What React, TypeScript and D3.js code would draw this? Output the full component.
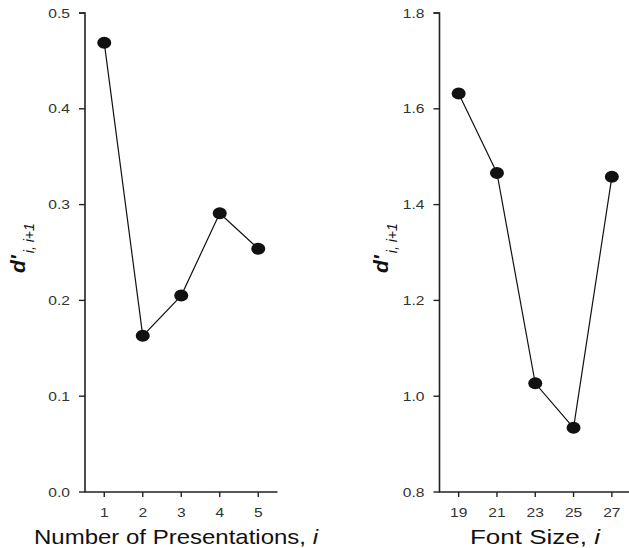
import React, { useEffect, useRef } from "react";
import * as d3 from "d3";

const leftCategories = [1, 2, 3, 4, 5];
const leftValues = [0.469, 0.163, 0.205, 0.291, 0.254];
const leftYTicks = [0.0, 0.1, 0.2, 0.3, 0.4, 0.5];
const leftXLabel = "Number of Presentations, ";

const rightCategories = [19, 21, 23, 25, 27];
const rightValues = [1.632, 1.466, 1.027, 0.934, 1.458];
const rightYTicks = [0.8, 1.0, 1.2, 1.4, 1.6, 1.8];
const rightXLabel = "Font Size, ";

const W = 629;
const H = 548;
const FONT = "Arial, 'Liberation Sans', Helvetica, sans-serif";
const SX = 1.2;

type Panel = {
  cats: number[];
  vals: number[];
  yTicks: number[];
  xDomain: [number, number];
  yDomain: [number, number];
  xRange: [number, number];
  xLabel: string;
  xLabelX: number;
  xLabelLen: number;
  yLabelX: number;
};

export default function App() {
  const ref = useRef<SVGSVGElement | null>(null);

  useEffect(() => {
    const svg = d3.select(ref.current);
    svg.selectAll("*").remove();

    const panels: Panel[] = [
      {
        cats: leftCategories,
        vals: leftValues,
        yTicks: leftYTicks,
        xDomain: [0.5, 5.5],
        yDomain: [0, 0.5],
        xRange: [85, 277.5],
        xLabel: leftXLabel,
        xLabelX: 176,
        xLabelLen: 284,
        yLabelX: 25,
      },
      {
        cats: rightCategories,
        vals: rightValues,
        yTicks: rightYTicks,
        xDomain: [18, 28],
        yDomain: [0.8, 1.8],
        xRange: [439.5, 631],
        xLabel: rightXLabel,
        xLabelX: 535,
        xLabelLen: 130,
        yLabelX: 388,
      },
    ];

    panels.forEach((p) => {
      const x = d3.scaleLinear().domain(p.xDomain).range(p.xRange);
      const y = d3.scaleLinear().domain(p.yDomain).range([492, 13]);
      const g = svg.append("g");
      const x0 = p.xRange[0];

      // y axis
      g.append("path")
        .attr("d", `M${x0 - 6},${y(p.yDomain[1])}H${x0}V${y(p.yDomain[0])}H${p.xRange[1]}`)
        .attr("fill", "none")
        .attr("stroke", "#222")
        .attr("stroke-width", 1.6);
      p.yTicks.forEach((t) => {
        g.append("line")
          .attr("x1", x0 - 6)
          .attr("x2", x0)
          .attr("y1", y(t))
          .attr("y2", y(t))
          .attr("stroke", "#222")
          .attr("stroke-width", 1.4);
        g.append("text")
          .attr("transform", `translate(${x0 - 15},${y(t) + 4.5}) scale(${SX},1)`)
          .attr("text-anchor", "end")
          .attr("fill", "#333")
          .style("font-family", FONT)
          .style("font-size", "13px")
          .text(d3.format(".1f")(t));
      });

      // x axis ticks
      p.cats.forEach((c) => {
        g.append("line")
          .attr("x1", x(c))
          .attr("x2", x(c))
          .attr("y1", 492)
          .attr("y2", 497)
          .attr("stroke", "#222")
          .attr("stroke-width", 1.4);
        g.append("text")
          .attr("transform", `translate(${x(c)},517) scale(${SX},1)`)
          .attr("text-anchor", "middle")
          .attr("fill", "#333")
          .style("font-family", FONT)
          .style("font-size", "13px")
          .text(d3.format("d")(c));
      });

      const pts = p.cats.map((c, i) => ({ c, v: p.vals[i] }));
      const line = d3
        .line<{ c: number; v: number }>()
        .x((d) => x(d.c))
        .y((d) => y(d.v));
      g.append("path")
        .attr("d", line(pts) || "")
        .attr("fill", "none")
        .attr("stroke", "#111")
        .attr("stroke-width", 1.2);
      g.selectAll("ellipse.pt")
        .data(pts)
        .enter()
        .append("ellipse")
        .attr("cx", (d) => x(d.c))
        .attr("cy", (d) => y(d.v))
        .attr("rx", 7)
        .attr("ry", 6)
        .attr("fill", "#111");

      const xl = g
        .append("text")
        .attr("x", p.xLabelX - p.xLabelLen / 2)
        .attr("y", 544)
        .attr("textLength", p.xLabelLen)
        .attr("lengthAdjust", "spacingAndGlyphs")
        .attr("fill", "#111")
        .style("font-family", FONT)
        .style("font-size", "21px");
      xl.append("tspan").text(p.xLabel);
      xl.append("tspan").attr("font-style", "italic").text("i");

      const yl = g
        .append("text")
        .attr("transform", `translate(${p.yLabelX},273) rotate(-90)`)
        .attr("text-anchor", "start")
        .attr("fill", "#111")
        .style("font-family", FONT);
      yl.append("tspan")
        .attr("font-style", "italic")
        .attr("font-weight", "bold")
        .style("font-size", "21px")
        .text("d'");
      yl.append("tspan")
        .attr("font-style", "italic")
        .attr("dy", 9)
        .attr("dx", 2)
        .style("font-size", "14px")
        .text("i, i+1");
    });
  }, []);

  return (
    <svg
      ref={ref}
      width={W}
      height={H}
      style={{ position: "absolute", left: 0, top: 0, background: "#fff" }}
    />
  );
}
